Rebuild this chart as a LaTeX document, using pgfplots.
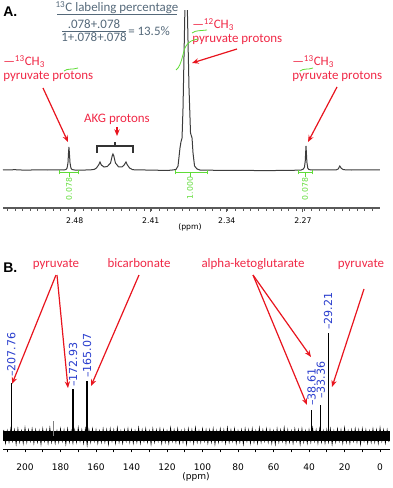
\documentclass[border=0pt]{standalone}
\usepackage{pgfplots}
\pgfplotsset{compat=1.18}
\usetikzlibrary{arrows.meta}
\usepackage{fontspec}
\setmainfont{Carlito}
\newfontfamily\dejavu{DejaVu Sans}
\newfontfamily\libsans{Liberation Sans}
\definecolor{redtxt}{RGB}{240,40,70}
\definecolor{redarr}{RGB}{232,20,30}
\definecolor{bluelab}{RGB}{40,60,205}
\definecolor{greenint}{RGB}{95,220,55}
\definecolor{titlegray}{RGB}{85,105,122}
\definecolor{specgray}{RGB}{60,60,60}
\definecolor{axisgray}{RGB}{90,90,90}
\tikzset{
  redlab/.style={text=redtxt, font=\fontsize{9.7}{11}\selectfont, inner sep=0pt},
  redar/.style={draw=redarr, line width=0.9pt, -{Stealth[length=5pt,width=4pt]}},
  bluel/.style={text=bluelab, font=\dejavu\fontsize{8.3}{10}\selectfont, inner sep=0pt, rotate=90, anchor=west},
  greenl/.style={text=greenint, font=\dejavu\fontsize{5.8}{7}\selectfont, inner sep=0pt, rotate=90},
}
\begin{document}
\begin{tikzpicture}
% ---------------- Panel A ----------------
\begin{axis}[
  scale only axis, width=282.75pt, height=147.75pt,
  at={(2.25pt,-156pt)}, anchor=south west,
  xmin=2.199, xmax=2.546, ymin=0, ymax=197, x dir=reverse,
  axis x line=bottom, axis y line=none,
  x axis line style={-, draw=axisgray, line width=0.8pt},
  xtick={2.27,2.34,2.41,2.48}, xticklabels={2.27,2.34,2.41,2.48},
  minor xtick={2.206,2.213,...,2.546},
  tick align=outside, major tick length=3pt, minor tick length=2pt,
  tick style={axisgray, line width=0.6pt},
  xticklabel style={font=\dejavu\fontsize{5.8}{7}\selectfont, text=black, yshift=-1pt},
  clip mode=individual,
]
\addplot[specgray, line width=0.75pt] coordinates {
(2.546,38)(2.535,38.3)(2.525,37.8)(2.515,38.2)(2.505,38)(2.495,38.2)(2.490,38)
(2.4880,38.5)(2.4870,40)(2.4862,45)(2.4857,55)(2.4853,61)(2.4849,55)(2.4843,45)(2.4835,40)(2.4825,38.5)
(2.4800,38)(2.475,37.8)(2.470,38)(2.465,38.2)(2.4620,38.6)(2.4600,40)(2.4580,43)(2.4567,46)(2.4555,43)
(2.4530,41)(2.4500,41.5)(2.4470,45)(2.4455,52)(2.4448,54)(2.4440,52)(2.4425,45)(2.4395,41)(2.4365,41)
(2.4345,43)(2.4328,46)(2.4315,43)(2.4295,40)(2.4270,38.5)(2.4240,38)(2.415,38)(2.405,37.8)(2.395,37.5)
(2.390,38)(2.3868,38.5)(2.3849,42)(2.3831,60)(2.3822,66)(2.3812,70)(2.3803,100)(2.3775,260)
(2.3748,120)(2.3734,75)(2.3720,70)(2.3711,55)(2.3697,42)(2.3674,39)(2.3647,38)(2.355,37.8)(2.345,37.6)
(2.335,37.5)(2.325,37.6)(2.315,37.5)(2.305,37.4)(2.295,37.5)(2.285,37.6)(2.275,37.8)
(2.2715,38)(2.2695,39)(2.2685,41)(2.2678,47)(2.2674,56)(2.2671,62)(2.2668,56)(2.2663,46)(2.2655,40)
(2.2645,38.5)(2.2620,38)(2.255,38)(2.245,38)(2.2395,38)(2.2375,39)(2.2360,42)(2.2345,39.5)(2.2325,38.3)
(2.225,38)(2.215,38.2)(2.205,38)(2.199,38)};
% integral marks
\draw[greenint, line width=0.6pt] (axis cs:2.4945,35.5)--(axis cs:2.4770,35.5);
\draw[greenint, line width=0.6pt] (axis cs:2.4945,33.5)--(axis cs:2.4945,37.5);
\draw[greenint, line width=0.6pt] (axis cs:2.4770,33.5)--(axis cs:2.4770,37.5);
\draw[greenint, line width=0.6pt] (axis cs:2.4853,35.5)--(axis cs:2.4853,31);
\node[greenl] at (axis cs:2.4853,19) {0.078};
\draw[greenint, line width=0.6pt] (axis cs:2.3877,35.5)--(axis cs:2.3582,35.5);
\draw[greenint, line width=0.6pt] (axis cs:2.3877,33.5)--(axis cs:2.3877,37.5);
\draw[greenint, line width=0.6pt] (axis cs:2.3582,33.5)--(axis cs:2.3582,37.5);
\draw[greenint, line width=0.6pt] (axis cs:2.3739,35.5)--(axis cs:2.3739,31);
\node[greenl] at (axis cs:2.3739,20) {1.000};
\draw[greenint, line width=0.6pt] (axis cs:2.2745,35.5)--(axis cs:2.2616,35.5);
\draw[greenint, line width=0.6pt] (axis cs:2.2745,33.5)--(axis cs:2.2745,37.5);
\draw[greenint, line width=0.6pt] (axis cs:2.2616,33.5)--(axis cs:2.2616,37.5);
\draw[greenint, line width=0.6pt] (axis cs:2.2680,35.5)--(axis cs:2.2680,31);
\node[greenl] at (axis cs:2.2680,19) {0.078};
\end{axis}
% ---------------- Panel B ----------------
\begin{axis}[
  scale only axis, width=290.25pt, height=145.5pt,
  at={(2.25pt,-336.75pt)}, anchor=south west,
  xmin=-5.6, xmax=212.4, ymin=-13, ymax=181, x dir=reverse,
  axis x line=bottom, axis y line=none,
  x axis line style={-, draw=black, line width=0.7pt},
  xtick={0,20,...,200}, xticklabels={0,20,40,60,80,100,120,140,160,180,200},
  minor xtick={10,30,...,210},
  tick align=outside, major tick length=2.5pt, minor tick length=2.5pt,
  tick style={black, line width=0.6pt},
  xticklabel style={font=\dejavu\fontsize{6.8}{8}\selectfont, text=black, yshift=-5pt},
  clip mode=individual,
]
\addplot[black, line width=7pt] coordinates {(212.2,0)(-5.4,0)};
\addplot[black, line width=0.5pt] coordinates {
(212,6)(211,-7)(210,5)(209,-6)(208,7)(207,-5)(206,6)(205,-8)(204,7)(203,-6)(202,5)(201,-7)(200,8)(199,-6)
(198,6)(197,-5)(196,7)(195,-7)(194,6)(193,-6)(192,5)(191,-8)(190,7)(189,-5)(188,6)(187,-7)(186,8)(185,-6)
(184,6)(183,-7)(182,5)(181,-6)(180,7)(179,-5)(178,6)(177,-8)(176,7)(175,-6)(174,5)(173,-7)(172,6)(171,-6)
(170,8)(169,-5)(168,6)(167,-7)(166,7)(165,-9)(164,6)(163,-6)(162,7)(161,-5)(160,6)(159,-7)(158,5)(157,-6)
(156,7)(155,-6)(154,6)(153,-8)(152,7)(151,-5)(150,6)(149,-7)(148,8)(147,-6)(146,5)(145,-7)(144,6)(143,-5)
(142,7)(141,-6)(140,6)(139,-7)(138,5)(137,-6)(136,8)(135,-7)(134,6)(133,-5)(132,7)(131,-6)(130,5)(129,-8)
(128,7)(127,-6)(126,6)(125,-5)(124,7)(123,-7)(122,6)(121,-6)(120,5)(119,-7)(118,8)(117,-5)(116,6)(115,-6)
(114,7)(113,-7)(112,5)(111,-6)(110,6)(109,-8)(108,7)(107,-5)(106,6)(105,-7)(104,8)(103,-6)(102,5)(101,-6)
(100,7)(99,-5)(98,6)(97,-7)(96,6)(95,-6)(94,7)(93,-8)(92,5)(91,-6)(90,7)(89,-5)(88,6)(87,-7)(86,8)(85,-6)
(84,6)(83,-5)(82,7)(81,-7)(80,5)(79,-6)(78,6)(77,-8)(76,7)(75,-5)(74,6)(73,-7)(72,7)(71,-6)(70,5)(69,-7)
(68,8)(67,-6)(66,6)(65,-5)(64,7)(63,-6)(62,6)(61,-7)(60,5)(59,-8)(58,7)(57,-6)(56,6)(55,-5)(54,8)(53,-7)
(52,6)(51,-6)(50,5)(49,-7)(48,7)(47,-5)(46,6)(45,-8)(44,7)(43,-6)(42,5)(41,-7)(40,6)(39,-6)(38,8)(37,-5)
(36,6)(35,-7)(34,7)(33,-6)(32,5)(31,-7)(30,6)(29,-6)(28,7)(27,-8)(26,5)(25,-6)(24,7)(23,-5)(22,6)(21,-7)
(20,8)(19,-6)(18,5)(17,-7)(16,6)(15,-5)(14,7)(13,-6)(12,6)(11,-8)(10,7)(9,-5)(8,6)(7,-7)(6,5)(5,-6)
(4,7)(3,-6)(2,6)(1,-7)(0,8)(-1,-5)(-2,6)(-3,-7)(-4,6)(-5,-6)};
\addplot[ycomb, black, line width=0.9pt, no marks] coordinates {(207.76,53)(172.93,47)(165.07,55)(38.61,26)(33.36,31)(29.21,103)};
\addplot[ycomb, gray, line width=0.7pt, no marks] coordinates {(184,15)};
\node[bluel] at (axis cs:207.76,59) {\textendash207.76};
\node[bluel] at (axis cs:172.93,49) {\textendash172.93};
\node[bluel] at (axis cs:165.07,58) {\textendash165.07};
\node[bluel] at (axis cs:38.61,30) {\textendash38.61};
\node[bluel] at (axis cs:33.36,37) {\textendash33.36};
\node[bluel] at (axis cs:29.21,106) {\textendash29.21};
\end{axis}
% ---------------- Annotations (image pixel frame) ----------------
\begin{scope}[x=0.75pt,y=-0.75pt]
% Panel A
\node[anchor=base west, inner sep=0pt, font=\libsans\bfseries\fontsize{10.5}{12}\selectfont] at (3,17) {A.};
\node[anchor=base, inner sep=0pt, text=titlegray, font=\fontsize{9.7}{11}\selectfont] at (117,12) {\textsuperscript{13}C labeling percentage};
\draw[titlegray, line width=0.6pt] (57,14.5)--(177,14.5);
\node[anchor=base, inner sep=0pt, text=titlegray, font=\fontsize{9.7}{11}\selectfont] at (94,29) {.078+.078};
\draw[titlegray, line width=0.6pt] (62,31.5)--(126,31.5);
\node[anchor=base, inner sep=0pt, text=titlegray, font=\fontsize{9.7}{11}\selectfont] at (94,42) {1+.078+.078};
\node[anchor=west, inner sep=0pt, text=titlegray, font=\fontsize{9.7}{11}\selectfont] at (128,31) {= 13.5\%};
\node[redlab, anchor=base west] at (3,66) {\textemdash\textsuperscript{13}CH\textsubscript{3}};
\node[redlab, anchor=base west] at (3,80) {pyruvate protons};
\node[redlab, anchor=base west] at (192,29) {\textemdash\textsuperscript{12}CH\textsubscript{3}};
\node[redlab, anchor=base west] at (192,43) {pyruvate protons};
\node[redlab, anchor=base west] at (292,66) {\textemdash\textsuperscript{13}CH\textsubscript{3}};
\node[redlab, anchor=base west] at (292,80) {pyruvate protons};
\node[redlab, anchor=base] at (117,123) {AKG protons};
\draw[redar] (43,88)--(68,142);
\draw[redar] (117,127)--(117,136);
\draw[redar] (237,49)--(192,63);
\draw[redar] (337,87)--(308,142);
\draw[black!80, line width=0.8pt] (97,153)--(97,146)--(133,146)--(133,153);
\draw[black!80, line width=0.8pt] (115,146)--(115,142);
\draw[greenint, line width=0.6pt] (64,71) .. controls (68,68) and (72,70) .. (78,68);
\draw[greenint, line width=0.6pt] (192,33) .. controls (196,30) and (200,31) .. (207,30);
\draw[greenint, line width=0.6pt] (300,71) .. controls (304,68) and (308,70) .. (313,68);
\draw[greenint, line width=0.6pt] (176,70) .. controls (182,66) and (183,50) .. (186,46) .. controls (189,41) and (193,40) .. (198,39);
\node[anchor=center, inner sep=0pt, font=\dejavu\fontsize{5.8}{7}\selectfont] at (190,227) {(ppm)};
% Panel B
\node[anchor=base west, inner sep=0pt, font=\libsans\bfseries\fontsize{10.5}{12}\selectfont] at (3,272) {B.};
\node[redlab, anchor=base] at (56,267.5) {pyruvate};
\node[redlab, anchor=base] at (139,267.5) {bicarbonate};
\node[redlab, anchor=base] at (253,267.5) {alpha-ketoglutarate};
\node[redlab, anchor=base] at (361,267.5) {pyruvate};
\draw[redar] (56,275)--(12,384);
\draw[redar] (57,275)--(68,388);
\draw[redar] (139,275)--(91,386);
\draw[redar] (253,275)--(307,405);
\draw[redar] (253,275)--(311,357);
\draw[redar] (364,289)--(332,387);
\node[anchor=center, inner sep=0pt, font=\dejavu\fontsize{6.8}{8}\selectfont] at (196,477) {(ppm)};
\end{scope}
\pgfresetboundingbox
\path[use as bounding box] (0pt,0pt) rectangle (294pt,-366pt);
\end{tikzpicture}
\end{document}
